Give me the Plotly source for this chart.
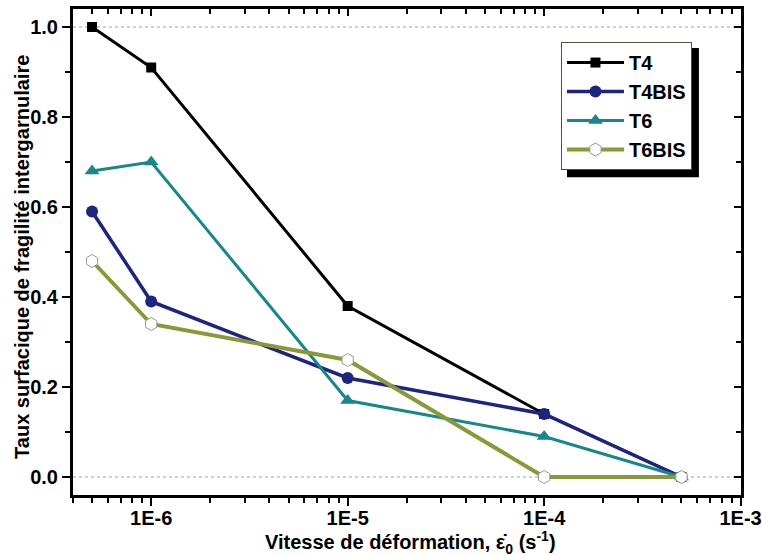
import plotly.graph_objects as go

# Data
strain_rate = [5e-7, 1e-6, 1e-5, 1e-4, 5e-4]
t4 = [1.00, 0.91, 0.38, 0.14, 0.00]
t4bis = [0.59, 0.39, 0.22, 0.14, 0.00]
t6 = [0.68, 0.70, 0.17, 0.09, 0.00]
t6bis = [0.48, 0.34, 0.26, 0.00, 0.00]

x_tickvals = [1e-6, 1e-5, 1e-4, 1e-3]
x_ticktext = ["1E-6", "1E-5", "1E-4", "1E-3"]
y_tickvals = [0.0, 0.2, 0.4, 0.6, 0.8, 1.0]
y_ticktext = ["0.0", "0.2", "0.4", "0.6", "0.8", "1.0"]
ref_lines = [0.0, 1.0]

x_title = "Vitesse de déformation, ε̇<sub>0</sub> (s<sup>-1</sup>)"
y_title = "Taux surfacique de fragilité intergarnulaire"

FONT = "Liberation Sans, Arial, sans-serif"

fig = go.Figure()

series = [
    ("T4", t4, "#000000", dict(symbol="square", size=10, color="#000000"), 3),
    ("T4BIS", t4bis, "#1c2580", dict(symbol="circle", size=12, color="#1c2580"), 3.5),
    ("T6", t6, "#16878a", dict(symbol="triangle-up", size=13, color="#16878a"), 3),
    ("T6BIS", t6bis, "#8a983a", dict(symbol="hexagon", size=13, color="#ffffff",
                                      line=dict(color="#8aa090", width=1)), 4),
]
for name, ys, col, mk, lw in series:
    fig.add_trace(go.Scatter(x=strain_rate, y=ys, mode="lines+markers", name=name,
                             line=dict(color=col, width=lw), marker=mk))

for yv in ref_lines:
    fig.add_hline(y=yv, line=dict(color="#8aa6b8", width=1, dash="dot"), layer="below")

xr = [-6.398, -2.998]
yr = [-0.04, 1.04]

fig.update_layout(
    width=762, height=555,
    margin=dict(l=73, r=21, t=9, b=60, autoexpand=False),
    paper_bgcolor="white", plot_bgcolor="white",
    font=dict(family=FONT, color="black"),
    showlegend=True,
    legend=dict(x=0.7305, y=0.932, xanchor="left", yanchor="top",
                bgcolor="white", bordercolor="#5a4a44", borderwidth=1,
                font=dict(size=20, family=FONT, weight="bold"),
                tracegroupgap=0, itemwidth=57),
    xaxis=dict(type="log", range=xr, tickvals=x_tickvals, ticktext=x_ticktext,
               automargin=False, ticklabelstandoff=-5,
               ticks="outside", ticklen=8, tickwidth=2, tickcolor="black",
               showline=True, linewidth=3, linecolor="black", showgrid=False, zeroline=False,
               tickfont=dict(size=20, family=FONT, weight="bold"),
               minor=dict(ticks="outside", ticklen=5, tickwidth=2, tickcolor="black",
                          dtick="D1", showgrid=False)),
    xaxis2=dict(type="log", range=xr, overlaying="x", side="top", matches="x",
                automargin=False,
                tickvals=x_tickvals, showticklabels=False,
                ticks="inside", ticklen=7, tickwidth=2, tickcolor="black",
                showline=True, linewidth=3, linecolor="black", showgrid=False, zeroline=False,
                minor=dict(ticks="inside", ticklen=5, tickwidth=2, tickcolor="black",
                           dtick="D1", showgrid=False)),
    yaxis=dict(range=yr, tickvals=y_tickvals, ticktext=y_ticktext,
               automargin=False,
               ticks="outside", ticklen=8, tickwidth=2, tickcolor="black",
               showline=True, linewidth=3, linecolor="black", showgrid=False, zeroline=False,
               tickfont=dict(size=20, family=FONT, weight="bold"),
               minor=dict(ticks="outside", ticklen=5, tickwidth=2, tickcolor="black",
                          dtick=0.1, showgrid=False)),
    yaxis2=dict(range=yr, overlaying="y", side="right", matches="y",
                automargin=False,
                tickvals=y_tickvals, showticklabels=False,
                ticks="inside", ticklen=7, tickwidth=2, tickcolor="black",
                showline=True, linewidth=3, linecolor="black", showgrid=False, zeroline=False,
                minor=dict(ticks="inside", ticklen=5, tickwidth=2, tickcolor="black",
                           dtick=0.1, showgrid=False)),
)

# axis titles as annotations for exact placement
fig.add_annotation(text=x_title, xref="paper", yref="paper", x=0.5045, y=-0.097,
                   xanchor="center", yanchor="middle", showarrow=False,
                   font=dict(size=20, family=FONT, weight="bold", color="black"))
fig.add_annotation(text=y_title, xref="paper", yref="paper", x=-0.0763, y=0.49,
                   xanchor="center", yanchor="middle", showarrow=False, textangle=-90,
                   font=dict(size=20, family=FONT, weight="bold", color="black"))

# dummy invisible trace so the mirror axes are drawn
fig.add_trace(go.Scatter(x=[1e-5], y=[0.5], xaxis="x2", yaxis="y2", mode="markers",
                         marker=dict(opacity=0), showlegend=False, hoverinfo="skip"))

# legend shadow (paper coordinates)
fig.add_shape(type="rect", xref="paper", yref="paper",
              x0=0.7395, x1=0.937, y0=0.654, y1=0.92,
              fillcolor="black", line=dict(width=0), layer="above")

fig.write_html("out.html", config={"displayModeBar": False},
               post_script="document.body.style.margin='0px';document.body.style.padding='0px';")
